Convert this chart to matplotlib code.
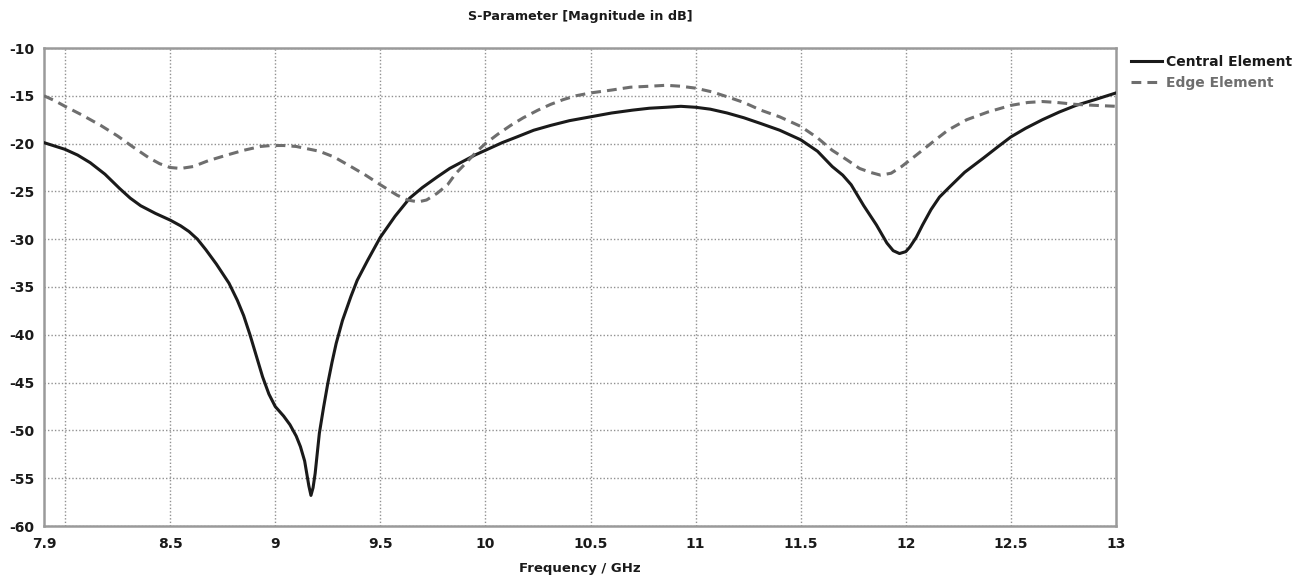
import matplotlib
matplotlib.use("Agg")
import matplotlib.pyplot as plt

plt.rcParams['axes.unicode_minus'] = False
plt.rcParams['font.family'] = ['DejaVu Sans']

# Data
freq_central = [7.90, 8.00, 8.06, 8.12, 8.19, 8.26, 8.31, 8.36, 8.43, 8.50, 8.55, 8.59,
                8.63, 8.67, 8.72, 8.78, 8.82, 8.85, 8.88, 8.91, 8.94, 8.97, 9.00, 9.04,
                9.07, 9.10, 9.12, 9.14, 9.15, 9.16, 9.17, 9.18, 9.19, 9.20, 9.21, 9.23,
                9.25, 9.27, 9.29, 9.32, 9.36, 9.39, 9.44, 9.50, 9.57, 9.64, 9.70, 9.77,
                9.83, 9.89, 9.95, 10.00, 10.08, 10.15, 10.23, 10.31, 10.40, 10.50, 10.60,
                10.70, 10.78, 10.86, 10.93, 11.00, 11.07, 11.15, 11.23, 11.31, 11.40,
                11.50, 11.58, 11.65, 11.70, 11.74, 11.80, 11.86, 11.91, 11.94, 11.97,
                12.00, 12.02, 12.05, 12.08, 12.12, 12.16, 12.21, 12.28, 12.37, 12.44,
                12.50, 12.57, 12.65, 12.73, 12.81, 12.90, 13.00]
s_central = [-19.9, -20.6, -21.2, -22.0, -23.2, -24.7, -25.7, -26.5, -27.3, -28.0, -28.6, -29.2,
             -30.0, -31.1, -32.6, -34.6, -36.4, -38.0, -40.0, -42.2, -44.4, -46.2, -47.5, -48.5,
             -49.4, -50.6, -51.7, -53.2, -54.5, -55.8, -56.8, -56.0, -54.5, -52.4, -50.3, -47.6,
             -45.1, -42.9, -40.9, -38.5, -36.0, -34.3, -32.2, -29.8, -27.6, -25.7, -24.6, -23.5,
             -22.6, -21.9, -21.2, -20.7, -19.9, -19.3, -18.6, -18.1, -17.6, -17.2, -16.8,
             -16.5, -16.3, -16.2, -16.1, -16.2, -16.4, -16.8, -17.3, -17.9, -18.6,
             -19.6, -20.8, -22.4, -23.3, -24.3, -26.5, -28.5, -30.4, -31.2, -31.5,
             -31.3, -30.8, -29.8, -28.5, -26.9, -25.6, -24.5, -23.0, -21.5, -20.3,
             -19.3, -18.4, -17.5, -16.7, -16.0, -15.4, -14.7]

freq_edge = [7.90, 7.95, 8.00, 8.08, 8.17, 8.25, 8.32, 8.40, 8.45, 8.50, 8.55, 8.61,
             8.68, 8.77, 8.85, 8.93, 8.98, 9.04, 9.10, 9.21, 9.28, 9.36, 9.43, 9.50,
             9.58, 9.63, 9.68, 9.72, 9.77, 9.82, 9.86, 9.90, 9.93, 9.96, 10.00, 10.06,
             10.12, 10.18, 10.25, 10.31, 10.37, 10.43, 10.50, 10.60, 10.69, 10.78,
             10.86, 10.93, 11.00, 11.08, 11.15, 11.23, 11.31, 11.40, 11.50, 11.58,
             11.65, 11.72, 11.78, 11.83, 11.88, 11.93, 11.98, 12.05, 12.13, 12.20,
             12.29, 12.39, 12.50, 12.58, 12.65, 12.72, 12.81, 12.90, 13.00]
s_edge = [-15.0, -15.5, -16.1, -17.0, -18.1, -19.2, -20.3, -21.5, -22.1, -22.5, -22.6, -22.4,
          -21.8, -21.2, -20.7, -20.3, -20.2, -20.2, -20.3, -20.8, -21.4, -22.4, -23.3, -24.3,
          -25.4, -25.9, -26.1, -25.9, -25.2, -24.3, -23.1, -22.2, -21.5, -20.8, -20.0, -19.0,
          -18.1, -17.3, -16.5, -15.9, -15.4, -15.0, -14.7, -14.4, -14.1, -14.0,
          -13.9, -14.0, -14.2, -14.6, -15.1, -15.7, -16.5, -17.2, -18.2, -19.4,
          -20.7, -21.7, -22.6, -23.0, -23.3, -23.1, -22.4, -21.2, -19.8, -18.6,
          -17.5, -16.7, -16.0, -15.7, -15.6, -15.7, -15.9, -16.0, -16.1]

x_ticks = [7.9, 8.5, 9, 9.5, 10, 10.5, 11, 11.5, 12, 12.5, 13]
x_tick_labels = ['7.9', '8.5', '9', '9.5', '10', '10.5', '11', '11.5', '12', '12.5', '13']
x_grid = [8.0, 8.5, 9.0, 9.5, 10.0, 10.5, 11.0, 11.5, 12.0, 12.5]
y_ticks = [-10, -15, -20, -25, -30, -35, -40, -45, -50, -55, -60]

fig = plt.figure(figsize=(13.08, 5.78), dpi=100)
ax = fig.add_axes([44/1308, 52/578, (1116-44)/1308, (526-48)/578])

ax.plot(freq_central, s_central, color='#1a1a1a', lw=2.2, label='Central Element',
        solid_joinstyle='round', zorder=3)
ax.plot(freq_edge, s_edge, color='#6e6e6e', lw=2.2, ls=(0, (3.2, 2.0)),
        label='Edge Element', zorder=3)

ax.set_xlim(7.9, 13)
ax.set_ylim(-60, -10)
ax.xaxis.remove_overlapping_locs = False
ax.set_xticks(x_ticks)
ax.set_xticklabels(x_tick_labels)
ax.set_xticks(x_grid, minor=True)
ax.set_yticks(y_ticks)
ax.tick_params(axis='both', which='both', length=0, labelsize=10)
ax.tick_params(axis='x', pad=8)
ax.tick_params(axis='y', pad=7)
for lab in ax.get_xticklabels() + ax.get_yticklabels():
    lab.set_fontweight('bold')
    lab.set_color('#1a1a1a')

ax.grid(False)
ax.grid(True, which='minor', axis='x', color='#909090', ls=(0, (1, 1.5)), lw=1.0)
ax.grid(True, which='major', axis='y', color='#909090', ls=(0, (1, 1.5)), lw=1.0)

for sp in ax.spines.values():
    sp.set_color('#9a9a9a')
    sp.set_linewidth(1.8)

ax.set_title('S-Parameter [Magnitude in dB]', fontsize=9.2, fontweight='bold',
             color='#1a1a1a', pad=20)
ax.set_xlabel('Frequency / GHz', fontsize=9.5, fontweight='bold', color='#1a1a1a', labelpad=8)

leg = ax.legend(loc='upper left', bbox_to_anchor=(1.005, 1.005), frameon=False,
                fontsize=10, handlelength=2.2, handletextpad=0.3, labelspacing=0.45,
                borderaxespad=0.3)
texts = leg.get_texts()
texts[0].set_fontweight('bold'); texts[0].set_color('#1a1a1a')
texts[1].set_fontweight('bold'); texts[1].set_color('#6e6e6e')

fig.savefig('out.png', dpi=100, facecolor='white')
